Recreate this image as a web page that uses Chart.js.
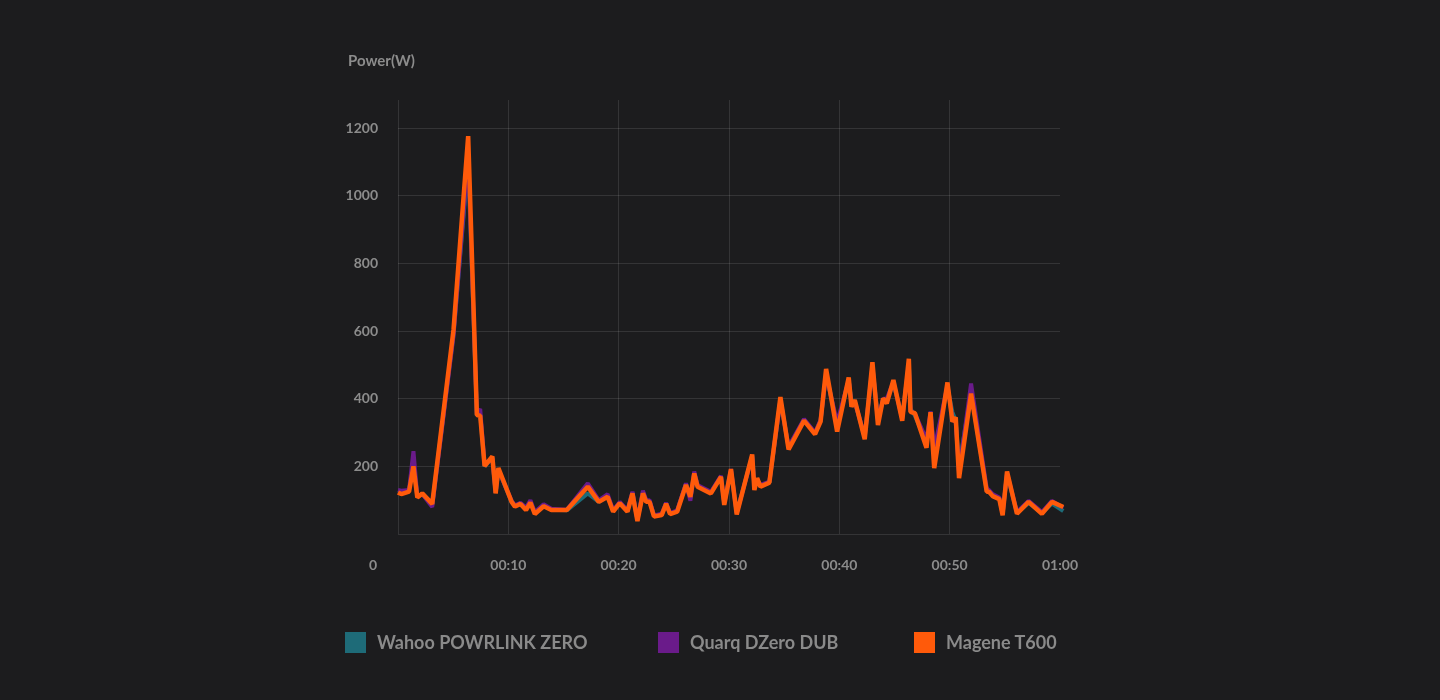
<!DOCTYPE html>
<html>
<head>
<meta charset="utf-8">
<script src="https://cdn.jsdelivr.net/npm/chart.js@4/dist/chart.umd.min.js"></script>
<style>
  html, body { margin: 0; padding: 0; background: #1c1c1e; width: 1440px; height: 700px; overflow: hidden; }
  #wrap { position: relative; width: 1440px; height: 700px; }
  canvas { position: absolute; left: 0; top: 0; }
  .lbl { position: absolute; font-family: Lato, "Noto Sans", sans-serif; font-weight: 700; color: #8c8c8c; white-space: nowrap; }
  #ytitle { left: 348px; top: 51px; font-size: 15px; }
  #zero { left: 369px; top: 556px; font-size: 14px; }
  .leg { position: absolute; top: 631px; height: 22px; display: flex; align-items: center; font-family: Lato, "Noto Sans", sans-serif; font-weight: 700; font-size: 18px; color: #8a8a8a; white-space: nowrap; }
  .leg .box { width: 21px; height: 21px; margin-right: 11px; }
</style>
</head>
<body>
<div id="wrap">
  <canvas id="c" width="1440" height="700"></canvas>
  <div class="lbl" id="ytitle">Power(W)</div>
  <div class="lbl" id="zero">0</div>
  <div id="legend"></div>
</div>
<script>
const seriesNames = ["Wahoo POWRLINK ZERO", "Quarq DZero DUB", "Magene T600"];
const seriesColors = ["#1e6b78", "#6a1b8a", "#ff5a0a"];
const xTickLabels = { 10: "00:10", 20: "00:20", 30: "00:30", 40: "00:40", 50: "00:50", 60: "01:00" };
const yTicks = [200, 400, 600, 800, 1000, 1200];

const minutes = [0, 0.3, 1.0, 1.4, 1.75, 2.2, 3.1, 5.03, 6.36, 7.15, 7.45, 7.85, 8.55, 8.85, 9.1, 10.3, 10.6, 11.1, 11.6, 12.0,
  12.4, 13.2, 13.9, 15.3, 17.2, 18.2, 19.0, 19.5, 20.1, 20.8, 21.25, 21.7, 22.2, 22.5, 22.8, 23.2, 23.9, 24.3, 24.66, 25.3,
  26.1, 26.5, 26.85, 27.15, 28.36, 29.27, 29.57, 30.18, 30.7, 32.1, 32.3, 32.55, 32.85, 33.66, 34.66, 35.4, 36.8, 37.8, 38.3, 38.8,
  39.8, 40.85, 41.1, 41.4, 42.3, 43.0, 43.5, 43.97, 44.3, 44.9, 45.7, 46.3, 46.45, 46.85, 47.9, 48.27, 48.6, 49.8, 50.25, 50.55,
  50.85, 51.94, 53.36, 53.57, 53.9, 54.5, 54.8, 55.2, 56.1, 57.15, 58.36, 59.27, 60.3];

const wahoo = [128, 125, 128, 215, 110, 118, 85, 590, 1100, 350, 355, 200, 225, 122, 190, 95, 83, 90, 74, 95,
  62, 84, 72, 70, 120, 95, 112, 68, 92, 68, 122, 42, 124, 97, 97, 55, 58, 90, 60, 68,
  148, 105, 180, 142, 122, 170, 90, 188, 62, 232, 148, 162, 142, 152, 398, 255, 338, 298, 335, 475,
  320, 455, 392, 392, 285, 495, 340, 398, 395, 445, 345, 505, 370, 350, 270, 355, 240, 435, 360, 335,
  200, 420, 128, 125, 115, 105, 60, 178, 62, 92, 62, 90, 68];

const quarq = [130, 128, 130, 245, 112, 118, 80, 585, 1120, 355, 370, 205, 225, 122, 190, 98, 85, 92, 78, 100,
  65, 88, 75, 72, 150, 100, 118, 70, 95, 70, 125, 42, 128, 100, 100, 55, 60, 92, 62, 70,
  150, 98, 185, 145, 125, 172, 92, 192, 62, 230, 140, 160, 145, 155, 395, 258, 340, 300, 338, 470,
  330, 455, 385, 390, 290, 495, 335, 400, 400, 450, 340, 500, 365, 355, 280, 362, 250, 440, 340, 330,
  180, 445, 135, 130, 118, 108, 60, 180, 65, 98, 65, 98, 78];

const magene = [123, 118, 125, 200, 108, 120, 89, 603, 1176, 352, 350, 201, 229, 120, 195, 95, 81, 89, 71, 93,
  59, 82, 71, 71, 140, 95, 110, 66, 91, 66, 120, 38, 120, 95, 95, 52, 56, 89, 59, 66,
  145, 110, 179, 140, 120, 169, 86, 192, 58, 235, 130, 165, 140, 152, 405, 250, 335, 295, 332, 488,
  303, 463, 376, 396, 280, 508, 322, 401, 386, 455, 335, 518, 361, 357, 255, 360, 195, 448, 332, 345,
  165, 415, 125, 125, 112, 103, 55, 185, 60, 95, 60, 95, 80];

const seriesValues = [wahoo, quarq, magene];
const widths = [4, 4, 4.5];

const datasets = seriesNames.map((name, i) => ({
  label: name,
  data: minutes.map((m, j) => ({ x: m, y: seriesValues[i][j] })),
  borderColor: seriesColors[i],
  backgroundColor: seriesColors[i],
  borderWidth: widths[i],
  borderJoinStyle: 'bevel',
  pointRadius: 0,
  tension: 0,
  clip: 8,
  order: 3 - i
}));

// HTML legend
const legendPos = [345, 658, 914];
const legend = document.getElementById('legend');
seriesNames.forEach((n, i) => {
  const d = document.createElement('div');
  d.className = 'leg';
  d.style.left = legendPos[i] + 'px';
  d.innerHTML = '<span class="box" style="background:' + seriesColors[i] + '"></span><span>' + n + '</span>';
  legend.appendChild(d);
});

const gridCol = 'rgba(255,255,255,0.11)';
new Chart(document.getElementById('c'), {
  type: 'line',
  data: { datasets },
  options: {
    responsive: false,
    animation: false,
    layout: { padding: { left: 338, right: 380, top: 100, bottom: 116 } },
    plugins: { legend: { display: false }, tooltip: { enabled: false } },
    scales: {
      x: {
        type: 'linear', min: 0, max: 60,
        afterFit: s => { s.height = 50; },
        border: { display: false },
        grid: { drawTicks: false, color: c => (c.tick && c.tick.value < 60) ? gridCol : 'rgba(0,0,0,0)', lineWidth: 1 },
        ticks: {
          stepSize: 10, padding: 23, color: '#8c8c8c', maxRotation: 0,
          font: { family: 'Lato, "Noto Sans", sans-serif', weight: 'bold', size: 14 },
          callback: v => xTickLabels[v] || ''
        }
      },
      y: {
        type: 'linear', min: 0, max: 1283,
        afterFit: s => { s.width = 60; },
        afterBuildTicks: s => { s.ticks = [0].concat(yTicks).map(v => ({ value: v })); },
        border: { display: false },
        grid: { drawTicks: false, color: gridCol, lineWidth: 1 },
        ticks: {
          padding: 20, color: '#8c8c8c',
          font: { family: 'Lato, "Noto Sans", sans-serif', weight: 'bold', size: 14 },
          callback: v => (yTicks.includes(v) ? String(v) : '')
        }
      }
    }
  }
});
</script>
</body>
</html>
